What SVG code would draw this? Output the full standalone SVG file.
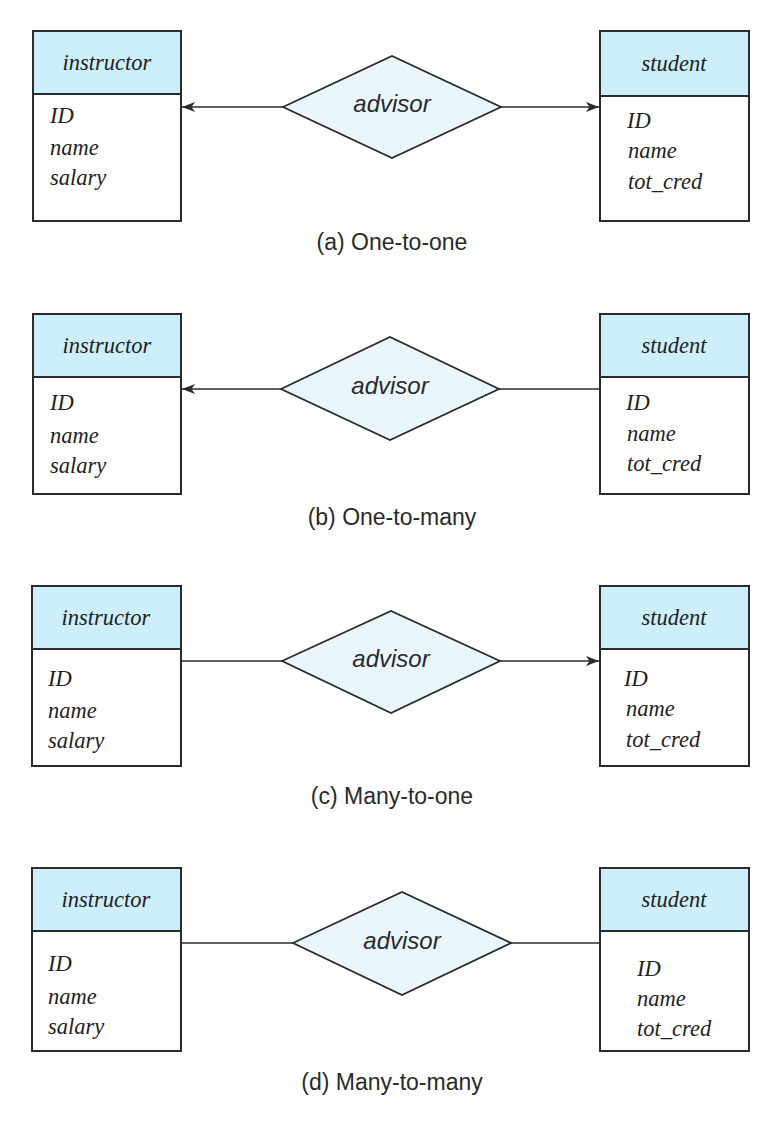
<svg xmlns="http://www.w3.org/2000/svg" width="781" height="1127" viewBox="0 0 781 1127">
<style>
.box{fill:#ffffff;stroke:#2b2b2b;stroke-width:2}
.hdr{fill:#cdeefb;stroke:#2b2b2b;stroke-width:2}
.dia{fill:#e9f7fd;stroke:#2b2b2b;stroke-width:1.8}
.ln{fill:none;stroke:#2b2b2b;stroke-width:1.6}
.t{font-family:'Liberation Serif','Times New Roman','DejaVu Serif',serif;font-style:italic;font-size:22.5px;fill:#222}
.tc{font-family:'Liberation Serif','Times New Roman','DejaVu Serif',serif;font-style:italic;font-size:22.5px;fill:#222;text-anchor:middle}
.rel{font-family:'Liberation Sans',Arial,sans-serif;font-style:italic;font-size:24px;fill:#2a2a2a;text-anchor:middle}
.cap{font-family:'Liberation Sans',Arial,sans-serif;font-size:23px;fill:#2a2a2a;text-anchor:middle}
</style>
<defs>
<marker id="arr" markerUnits="userSpaceOnUse" markerWidth="14" markerHeight="12" refX="13" refY="6" orient="auto">
<path d="M0,1 L13,6 L0,11 L3.5,6 z" fill="#2b2b2b"/>
</marker>
</defs>

<g id="connectors">
<line class="ln" x1="283" y1="107" x2="182" y2="107" marker-end="url(#arr)"/>
<line class="ln" x1="501" y1="107" x2="599" y2="107" marker-end="url(#arr)"/>
<line class="ln" x1="281" y1="389" x2="182" y2="389" marker-end="url(#arr)"/>
<line class="ln" x1="499" y1="389" x2="600" y2="389"/>
<line class="ln" x1="181" y1="661" x2="282" y2="661"/>
<line class="ln" x1="500" y1="661" x2="599" y2="661" marker-end="url(#arr)"/>
<line class="ln" x1="181" y1="943" x2="293" y2="943"/>
<line class="ln" x1="511" y1="943" x2="600" y2="943"/>
</g>

<!-- (a) -->
<g id="instructor-a">
<rect class="box" x="33" y="31" width="148" height="190"/>
<rect class="hdr" x="33" y="31" width="148" height="63"/>
<text class="tc" x="107" y="70">instructor</text>
<text class="t" x="50" y="123">ID</text>
<text class="t" x="50" y="155">name</text>
<text class="t" x="50" y="185">salary</text>
</g>
<g id="advisor-a">
<polygon class="dia" points="283,107 392,56 501,107 392,158"/>
<text class="rel" x="392" y="112">advisor</text>
</g>
<g id="student-a">
<rect class="box" x="600" y="31" width="149" height="190"/>
<rect class="hdr" x="600" y="31" width="149" height="65"/>
<text class="tc" x="674" y="71">student</text>
<text class="t" x="627" y="128">ID</text>
<text class="t" x="628" y="158">name</text>
<text class="t" x="628" y="189">tot_cred</text>
</g>
<text class="cap" x="392" y="250">(a) One-to-one</text>

<!-- (b) -->
<g id="instructor-b">
<rect class="box" x="33" y="314" width="148" height="180"/>
<rect class="hdr" x="33" y="314" width="148" height="63"/>
<text class="tc" x="107" y="353">instructor</text>
<text class="t" x="50" y="410">ID</text>
<text class="t" x="50" y="443">name</text>
<text class="t" x="50" y="473">salary</text>
</g>
<g id="advisor-b">
<polygon class="dia" points="281,389 390,337 499,389 390,440"/>
<text class="rel" x="390" y="394">advisor</text>
</g>
<g id="student-b">
<rect class="box" x="600" y="314" width="149" height="180"/>
<rect class="hdr" x="600" y="314" width="149" height="63"/>
<text class="tc" x="674" y="353">student</text>
<text class="t" x="626" y="410">ID</text>
<text class="t" x="627" y="441">name</text>
<text class="t" x="627" y="471">tot_cred</text>
</g>
<text class="cap" x="392" y="525">(b) One-to-many</text>

<!-- (c) -->
<g id="instructor-c">
<rect class="box" x="32" y="586" width="149" height="180"/>
<rect class="hdr" x="32" y="586" width="149" height="63"/>
<text class="tc" x="106" y="625">instructor</text>
<text class="t" x="48" y="686">ID</text>
<text class="t" x="48" y="718">name</text>
<text class="t" x="48" y="748">salary</text>
</g>
<g id="advisor-c">
<polygon class="dia" points="282,661 391,611 500,661 391,713"/>
<text class="rel" x="391" y="667">advisor</text>
</g>
<g id="student-c">
<rect class="box" x="600" y="586" width="149" height="180"/>
<rect class="hdr" x="600" y="586" width="149" height="63"/>
<text class="tc" x="674" y="625">student</text>
<text class="t" x="624" y="686">ID</text>
<text class="t" x="626" y="716">name</text>
<text class="t" x="626" y="747">tot_cred</text>
</g>
<text class="cap" x="392" y="804">(c) Many-to-one</text>

<!-- (d) -->
<g id="instructor-d">
<rect class="box" x="32" y="868" width="149" height="183"/>
<rect class="hdr" x="32" y="868" width="149" height="63"/>
<text class="tc" x="106" y="907">instructor</text>
<text class="t" x="48" y="971">ID</text>
<text class="t" x="48" y="1004">name</text>
<text class="t" x="48" y="1034">salary</text>
</g>
<g id="advisor-d">
<polygon class="dia" points="293,943 402,892 511,943 402,995"/>
<text class="rel" x="402" y="949">advisor</text>
</g>
<g id="student-d">
<rect class="box" x="600" y="868" width="149" height="183"/>
<rect class="hdr" x="600" y="868" width="149" height="63"/>
<text class="tc" x="674" y="907">student</text>
<text class="t" x="637" y="976">ID</text>
<text class="t" x="637" y="1006">name</text>
<text class="t" x="637" y="1036">tot_cred</text>
</g>
<text class="cap" x="392" y="1090">(d) Many-to-many</text>
</svg>
